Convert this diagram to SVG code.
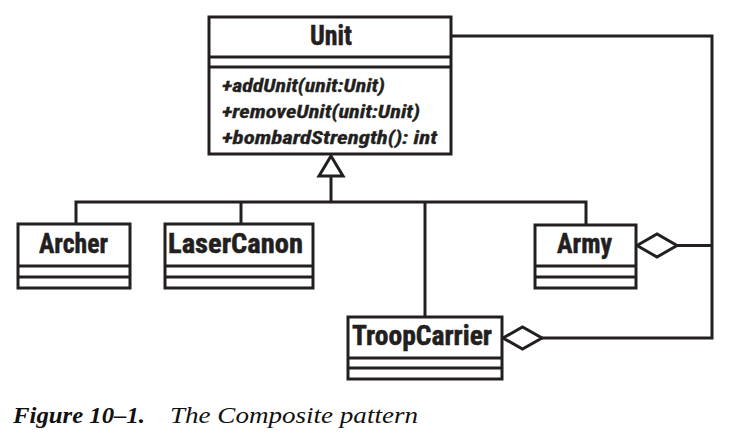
<svg xmlns="http://www.w3.org/2000/svg" width="737" height="441" viewBox="0 0 737 441">
<style>
.box{fill:#fff;stroke:#231f20;stroke-width:3}
.ln{fill:none;stroke:#231f20;stroke-width:3}
.nm{font-family:Roboto,"Liberation Sans",sans-serif;font-stretch:condensed;font-weight:bold;font-size:27px;fill:#231f20;stroke:#231f20;stroke-width:0.5}
.op{font-family:Roboto,"Liberation Sans",sans-serif;font-stretch:condensed;font-weight:bold;font-style:italic;font-size:19px;fill:#231f20;stroke:#231f20;stroke-width:0.3}
.cap{font-family:"Liberation Serif","Times New Roman",serif;font-style:italic;font-size:24px;fill:#111}
</style>
<rect width="737" height="441" fill="#fff"/>
<g id="connectors">
<polyline class="ln" points="451,36 712,36 712,338 542,338"/>
<line class="ln" x1="677" y1="245.5" x2="712" y2="245.5"/>
<polyline class="ln" points="76,224 76,202 586,202 586,225"/>
<line class="ln" x1="241" y1="202" x2="241" y2="224"/>
<line class="ln" x1="425" y1="202" x2="425" y2="317"/>
<line class="ln" x1="331" y1="176" x2="331" y2="202"/>
<polygon class="box" points="331,156 343,176 319,176"/>
<polygon class="box" points="637,245.5 657,234 677,245.5 657,257"/>
<polygon class="box" points="503,338 522.5,327 542,338 522.5,349"/>
</g>
<g id="Unit">
<rect class="box" x="209" y="17" width="242" height="137"/>
<line class="ln" x1="209" y1="57" x2="451" y2="57"/>
<line class="ln" x1="209" y1="67" x2="451" y2="67"/>
<text class="nm" x="310" y="45" textLength="42" lengthAdjust="spacingAndGlyphs">Unit</text>
<text class="op" x="222" y="92" textLength="163" lengthAdjust="spacingAndGlyphs">+addUnit(unit:Unit)</text>
<text class="op" x="222" y="118" textLength="198" lengthAdjust="spacingAndGlyphs">+removeUnit(unit:Unit)</text>
<text class="op" x="222" y="144" textLength="215" lengthAdjust="spacingAndGlyphs">+bombardStrength(): int</text>
</g>
<g id="Archer">
<rect class="box" x="18" y="224" width="112" height="64"/>
<line class="ln" x1="18" y1="266" x2="130" y2="266"/>
<line class="ln" x1="18" y1="277" x2="130" y2="277"/>
<text class="nm" x="39" y="253" textLength="69" lengthAdjust="spacingAndGlyphs">Archer</text>
</g>
<g id="LaserCanon">
<rect class="box" x="165" y="224" width="148" height="64"/>
<line class="ln" x1="165" y1="266" x2="313" y2="266"/>
<line class="ln" x1="165" y1="277" x2="313" y2="277"/>
<text class="nm" x="168" y="253" textLength="135" lengthAdjust="spacingAndGlyphs">LaserCanon</text>
</g>
<g id="Army">
<rect class="box" x="535" y="225" width="101" height="63"/>
<line class="ln" x1="535" y1="266" x2="636" y2="266"/>
<line class="ln" x1="535" y1="277" x2="636" y2="277"/>
<text class="nm" x="557" y="253" textLength="55" lengthAdjust="spacingAndGlyphs">Army</text>
</g>
<g id="TroopCarrier">
<rect class="box" x="348" y="317" width="154" height="62"/>
<line class="ln" x1="348" y1="358" x2="502" y2="358"/>
<line class="ln" x1="348" y1="368" x2="502" y2="368"/>
<text class="nm" x="352" y="345" textLength="140" lengthAdjust="spacingAndGlyphs">TroopCarrier</text>
</g>
<text class="cap" x="13" y="423" font-weight="bold" textLength="132" lengthAdjust="spacingAndGlyphs">Figure 10–1.</text>
<text class="cap" x="170" y="423" textLength="248" lengthAdjust="spacingAndGlyphs">The Composite pattern</text>
</svg>
